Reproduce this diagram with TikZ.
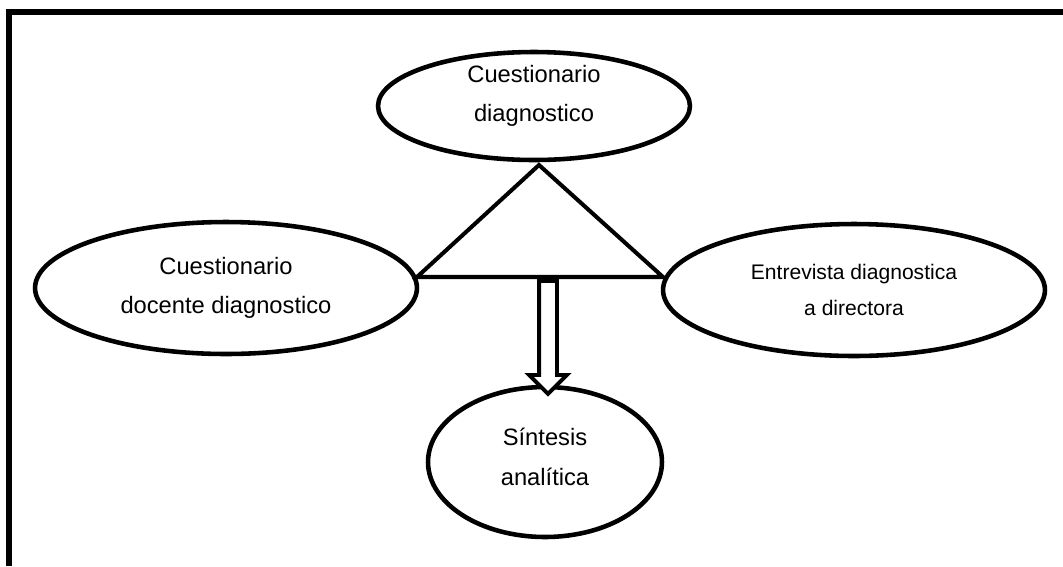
\documentclass[tikz,border=0pt]{standalone}
\usepackage{fontspec}
\setmainfont{Liberation Sans}
\usetikzlibrary{shapes.geometric, shapes.arrows}

\tikzset{
	oval/.style={ellipse, draw, line width=2.6pt, inner sep=0pt},
	lbl/.style={align=center, font=\fontsize{13.5}{22.5}\selectfont},
	arrowbox/.style={single arrow, draw, line width=2.2pt, fill=white, inner xsep=0pt, inner ysep=0.14cm, single arrow head extend=0.2cm, single arrow tip angle=90}
}

\begin{document}
\begin{tikzpicture}[x=0.02cm, y=-0.02cm]
	\useasboundingbox (0,0) rectangle (1063,566);
	\draw[line width=3.4pt] (9,566) -- (9,12) -- (1063,12);
	
	\node[oval, minimum width=6.24cm, minimum height=2.16cm, label={[lbl, yshift=0.2cm]center:{Cuestionario\\diagnostico}}] (cues) at (534,106) {};
	\node[oval, minimum width=7.64cm, minimum height=2.64cm, label={[lbl]center:{Cuestionario\\docente diagnostico}}] (doc) at (226,288) {};
	\node[oval, minimum width=7.64cm, minimum height=2.64cm, label={[lbl, font=\fontsize{12}{20}\selectfont]center:{Entrevista diagnostica\\a directora}}] (entr) at (854,290) {};
	\node[oval, minimum width=4.68cm, minimum height=3cm, label={[lbl, yshift=0.1cm]center:{Síntesis\\analítica}}] (sint) at (545,462) {};
	
	\coordinate (apex) at (539,165);
	\coordinate (bl) at (417,277);
	\coordinate (br) at (663,277);
	\draw[line width=2.3pt, line join=miter] (apex) -- (bl) -- (br) -- cycle;
	
	\node[arrowbox, rotate=-90, minimum height=2.26cm] (flow) at (548,333) {};
\end{tikzpicture}
\end{document}
